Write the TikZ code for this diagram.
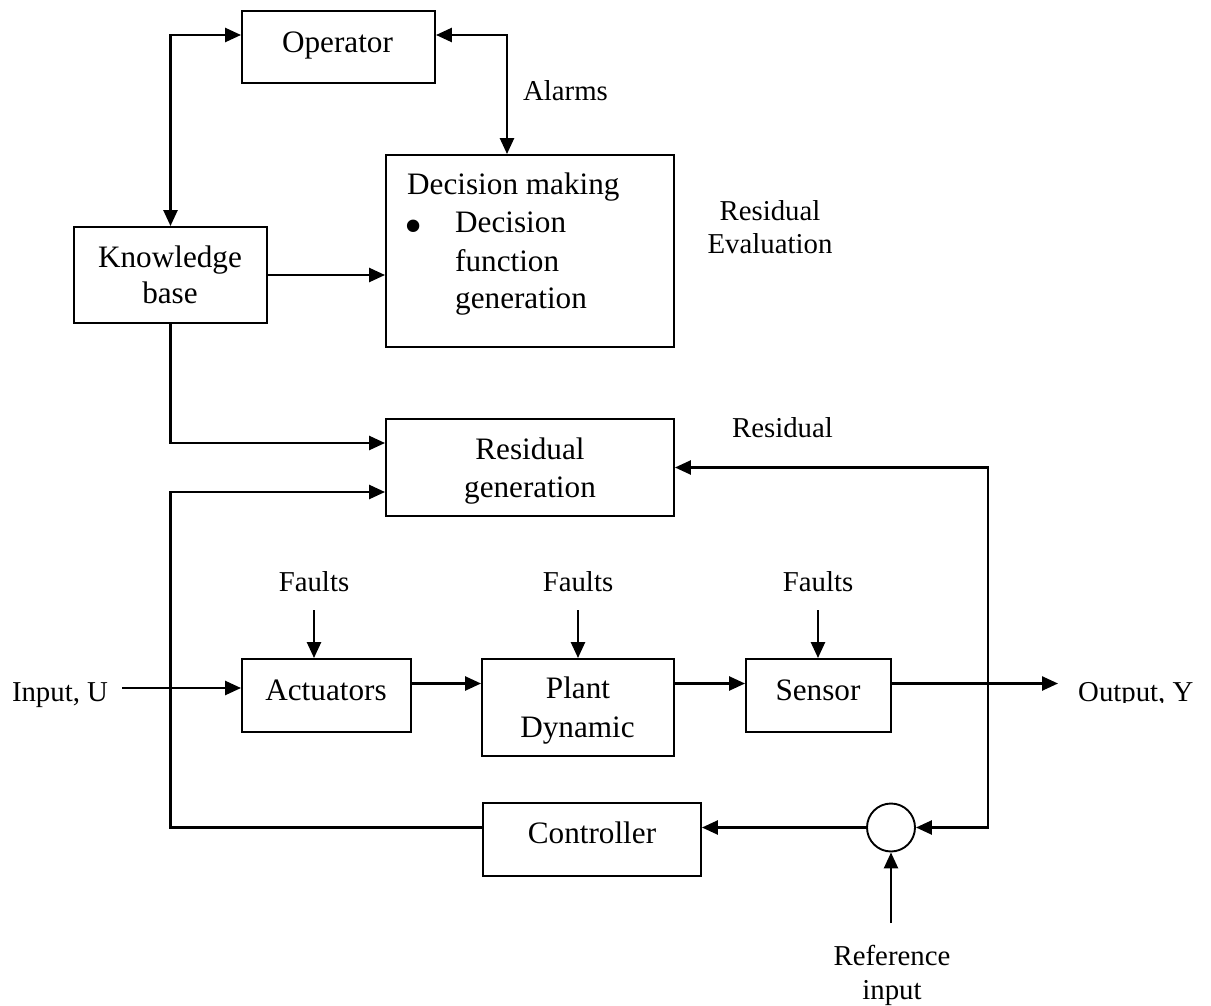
\documentclass[tikz,border=0pt]{standalone}
\usepackage{fontspec}
\setmainfont{Liberation Serif}
\usetikzlibrary{arrows.meta}
\newcommand\blkfont{\fontsize{31.2pt}{37.5pt}\selectfont}
\newcommand\lblfont{\fontsize{28.8pt}{34pt}\selectfont}
\begin{document}
\begin{tikzpicture}[x=1pt,y=-1pt,
  >={Triangle[length=16pt,width=14pt]},
  box/.style={draw, line width=1.9pt, inner sep=0pt, outer sep=0.95pt},
  sumpt/.style={circle, draw, line width=1.9pt, inner sep=0pt, outer sep=0.95pt, minimum size=48pt},
  txt/.style={inner sep=0pt, anchor=base, font=\blkfont},
  lbl/.style={inner sep=0pt, anchor=base, font=\lblfont},
  conn/.style={line width=2.5pt}]

\useasboundingbox (0,0) rectangle (1211,1006);

% blocks
\node[box, minimum width=193pt, minimum height=72pt] (op) at (338.5,47) {};
\node[box, minimum width=193pt, minimum height=96pt] (kb) at (170.5,275) {};
\node[box, minimum width=288pt, minimum height=192pt] (dm) at (530,251) {};
\node[box, minimum width=288pt, minimum height=97pt] (rg) at (530,467.5) {};
\node[box, minimum width=169pt, minimum height=73pt] (act) at (326.5,695.5) {};
\node[box, minimum width=192pt, minimum height=97pt] (plant) at (578,707.5) {};
\node[box, minimum width=145pt, minimum height=73pt] (sen) at (818.5,695.5) {};
\node[box, minimum width=218pt, minimum height=73pt] (ctl) at (592,839.5) {};
\node[sumpt] (sum) at (891,827.5) {};

% block texts
\node[txt] (optx) at (337.5,53) {Operator};
\node[txt, anchor=base west] (dm1) at (407,194) {Decision making};
\node[inner sep=0pt, font=\fontsize{52pt}{52pt}\selectfont] (dmb) at (414,232) {\textbullet};
\node[txt, anchor=base west] (dm2) at (455,233) {Decision};
\node[txt, anchor=base west] (dm3) at (455,271) {function};
\node[txt, anchor=base west] (dm4) at (455,308) {generation};
\node[txt] (kb1) at (170,267) {Knowledge};
\node[txt] (kb2) at (170,303) {base};
\node[txt] (rg1) at (530,459) {Residual};
\node[txt] (rg2) at (530,497) {generation};
\node[txt] (acttx) at (326,700) {Actuators};
\node[txt] (pl1) at (578,698) {Plant};
\node[txt] (pl2) at (577.5,737) {Dynamic};
\node[txt] (sentx) at (818,700) {Sensor};
\node[txt] (ctltx) at (592,843) {Controller};

% free labels
\node[lbl] (alarms) at (565.5,101) {Alarms};
\node[lbl] (re1) at (770,220) {Residual};
\node[lbl] (re2) at (770,253) {Evaluation};
\node[lbl] (res) at (782.5,437) {Residual};
\node[lbl] (f1) at (314,591) {Faults};
\node[lbl] (f2) at (578,591) {Faults};
\node[lbl] (f3) at (818,591) {Faults};
\node[lbl] (inlbl) at (60,701) {Input, U};
\node[lbl] (ref1) at (892,965) {Reference};
\node[lbl] (ref2) at (892,999) {input};
\begin{scope}
  \clip (1060,660) rectangle (1211,702);
  \node[lbl, anchor=base west] (outlbl) at (1078,701) {Output, Y};
\end{scope}

% helper points
\coordinate (rgin2) at ([yshift=-24.5pt]rg.west);
\coordinate (fb) at (988,827.5);
\coordinate (refpt) at (891,923);
\coordinate (f1pt) at (314,610);
\coordinate (f2pt) at (578,610);
\coordinate (f3pt) at (818,610);
\coordinate (inpt) at (122,688);
\coordinate (outpt) at (1058,683.5);

% connectors
\draw[conn, <->] (kb.north) |- ([yshift=12pt]op.west);
\draw[conn, <->] ([yshift=12pt]op.east) -| ([xshift=-23pt]dm.north);
\draw[conn, ->] (kb.east) -- (kb.east -| dm.west);
\draw[conn, ->] (kb.south) |- ([yshift=24.5pt]rg.west);
\draw[conn, ->] ([yshift=12pt]ctl.west) -| (kb.south |- rgin2) -- (rgin2);
\draw[conn, ->] (sum.west) -- (sum.west -| ctl.east);
\draw[conn, <->] (rg.east) -| (fb) -- (sum.east);
\draw[conn, ->] (refpt) -- (sum.south);
\draw[conn, ->] (f1pt) -- (f1pt |- act.north);
\draw[conn, ->] (f2pt) -- (f2pt |- plant.north);
\draw[conn, ->] (f3pt) -- (f3pt |- sen.north);
\draw[conn, ->] (inpt) -- (inpt -| act.west);
\draw[conn, ->] ([yshift=12pt]act.east) -- ([yshift=12pt]act.east -| plant.west);
\draw[conn, ->] ([yshift=24pt]plant.east) -- ([yshift=24pt]plant.east -| sen.west);
\draw[conn, ->] ([yshift=12pt]sen.east) -- (outpt);

\end{tikzpicture}
\end{document}
